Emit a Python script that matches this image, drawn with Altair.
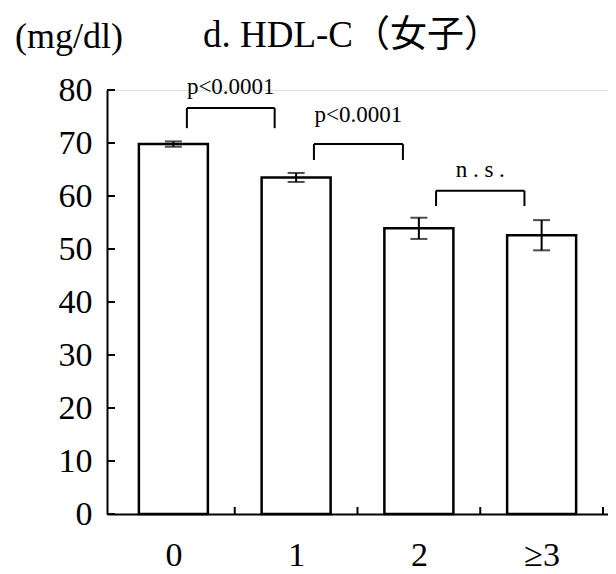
import json
import altair as alt
import pandas as pd

# ---- data ----
categories = ["0", "1", "2", "≥3"]
means = [69.8, 63.5, 53.9, 52.6]
errs = [0.5, 0.85, 2.0, 2.85]
y_ticks = [0, 10, 20, 30, 40, 50, 60, 70, 80]
x_bounds = [0.5, 1.5, 2.5, 3.5]

bracket_labels = ["p<0.0001", "p<0.0001", "n . s ."]
bracket_left = [0.11, 1.145, 2.14]
bracket_right = [0.825, 1.87, 2.86]
bracket_top = [76.6, 69.8, 61.0]
bracket_bottom = [72.8, 66.8, 58.1]
bracket_label_y = [80.6, 75.3, 64.9]

title_text = "d. HDL-C（女子）"
unit_text = "(mg/dl)"

W, H = 501, 424
SERIF = "Liberation Serif"
SERIF_CJK = "Liberation Serif, Noto Sans CJK JP"

bars = pd.DataFrame({
    "idx": list(range(len(categories))),
    "cat": categories,
    "mean": means,
    "lo": [m - e for m, e in zip(means, errs)],
    "hi": [m + e for m, e in zip(means, errs)],
})
ticks_df = pd.DataFrame({"v": y_ticks})
bounds_df = pd.DataFrame({"b": x_bounds})
br = pd.DataFrame({
    "label": bracket_labels,
    "x1": bracket_left,
    "x2": bracket_right,
    "top": bracket_top,
    "bottom": bracket_bottom,
    "ly": bracket_label_y,
})
br["xm"] = (br["x1"] + br["x2"]) / 2
texts = pd.DataFrame({"t": [title_text]})
units = pd.DataFrame({"t": [unit_text]})

xscale = alt.Scale(domain=[-0.5, 3.5], nice=False, zero=False)
yscale = alt.Scale(domain=[0, 80], nice=False)

label_expr = json.dumps(categories) + "[datum.value]"

xaxis = alt.Axis(values=[0, 1, 2, 3], labelExpr=label_expr, ticks=False, grid=False,
                 domainColor="black", domainWidth=2, labelFont=SERIF, labelFontSize=34,
                 labelColor="black", labelPadding=24, title=None)
yaxis = alt.Axis(values=y_ticks, ticks=False, grid=False, domainColor="black",
                 domainWidth=2, labelFont=SERIF, labelFontSize=34, labelColor="black",
                 labelPadding=15, title=None)

base_bars = alt.Chart(bars).mark_bar(size=69, fill="white", stroke="black", strokeWidth=2.5).encode(
    x=alt.X("idx:Q", scale=xscale, axis=xaxis),
    y=alt.Y("mean:Q", scale=yscale, axis=yaxis),
)

err_line = alt.Chart(bars).mark_rule(color="black", strokeWidth=2).encode(
    x="idx:Q", y="lo:Q", y2="hi:Q")
cap_lo = alt.Chart(bars).mark_tick(color="black", orient="horizontal", size=17, thickness=2).encode(
    x="idx:Q", y="lo:Q")
cap_hi = alt.Chart(bars).mark_tick(color="black", orient="horizontal", size=17, thickness=2).encode(
    x="idx:Q", y="hi:Q")

yticks = alt.Chart(ticks_df).mark_rule(color="black", strokeWidth=2).encode(
    y="v:Q", x=alt.value(0), x2=alt.value(8))
xticks = alt.Chart(bounds_df).mark_rule(color="black", strokeWidth=2).encode(
    x="b:Q", y=alt.value(H), y2=alt.value(H - 7))

br_h = alt.Chart(br).mark_rule(color="black", strokeWidth=2).encode(
    x="x1:Q", x2="x2:Q", y="top:Q")
br_l = alt.Chart(br).mark_rule(color="black", strokeWidth=2).encode(
    x="x1:Q", y="top:Q", y2="bottom:Q")
br_r = alt.Chart(br).mark_rule(color="black", strokeWidth=2).encode(
    x="x2:Q", y="top:Q", y2="bottom:Q")
br_t = alt.Chart(br).mark_text(font=SERIF, fontSize=23, color="black", baseline="middle").encode(
    x="xm:Q", y="ly:Q", text="label:N")

title_mark = alt.Chart(texts).mark_text(font=SERIF_CJK, fontSize=37, color="black",
                                        align="left", baseline="alphabetic").encode(
    x=alt.value(96), y=alt.value(-43), text="t:N")
unit_mark = alt.Chart(units).mark_text(font=SERIF, fontSize=36, color="black",
                                       align="left", baseline="alphabetic").encode(
    x=alt.value(-92), y=alt.value(-42), text="t:N")

chart = alt.layer(
    base_bars, err_line, cap_lo, cap_hi, yticks, xticks, br_h, br_l, br_r, br_t,
    title_mark, unit_mark
).properties(
    width=W, height=H,
    autosize=alt.AutoSizeParams(type="none"),
    padding={"left": 99, "top": 82, "right": 0, "bottom": 60},
).configure_view(stroke=None).configure(background="white")

chart.save("out.html", embed_options={"renderer": "svg", "actions": False})
